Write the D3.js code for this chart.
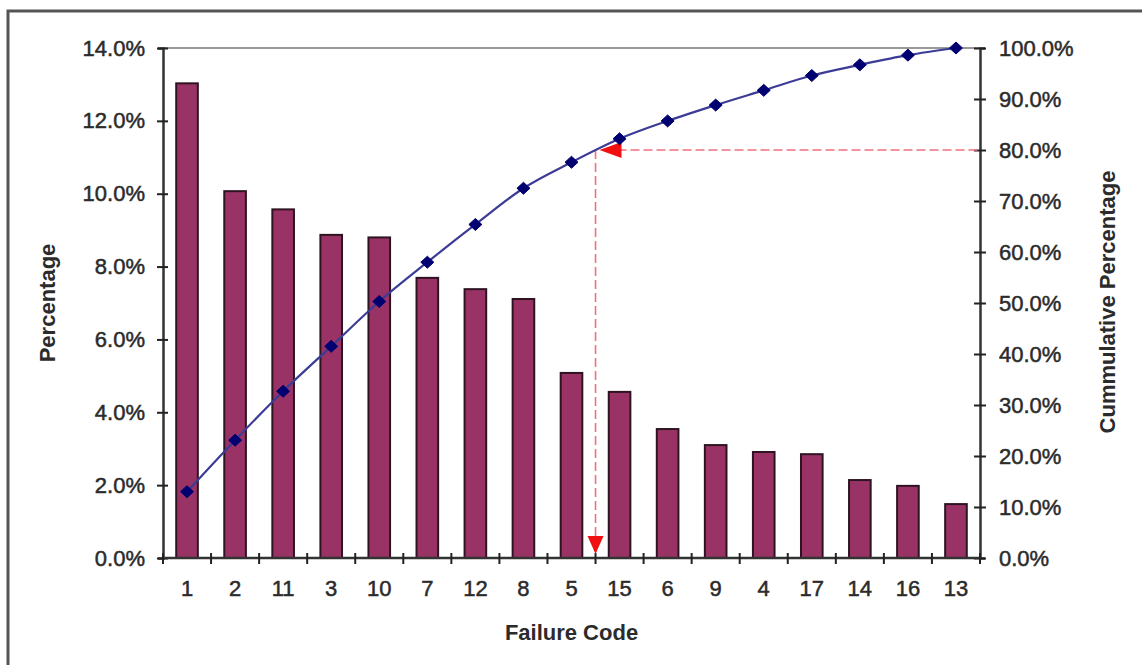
<!DOCTYPE html>
<html><head><meta charset="utf-8">
<script src="https://cdn.jsdelivr.net/npm/d3@7"></script>
<style>
html,body{margin:0;padding:0;background:#fff;}
svg{display:block;font-family:Arial,"Liberation Sans",sans-serif;}
</style></head>
<body><svg id="chart" width="1142" height="665"></svg>
<script>
// ---- data ----
const codes = ["1","2","11","3","10","7","12","8","5","15","6","9","4","17","14","16","13"];
const percentage = [0.1303,0.1007,0.0957,0.0887,0.0880,0.0769,0.0738,0.0711,0.0508,0.0456,0.0354,0.0310,0.0291,0.0285,0.0214,0.0198,0.0148];
const cumulative = [0.130,0.231,0.327,0.415,0.503,0.580,0.654,0.725,0.776,0.822,0.857,0.888,0.917,0.946,0.967,0.986,1.000];
const leftTicks = [0,0.02,0.04,0.06,0.08,0.10,0.12,0.14];
const rightTicks = [0,0.1,0.2,0.3,0.4,0.5,0.6,0.7,0.8,0.9,1.0];
const cutoff = 0.80;           // 80% reference level
const cutoffAfter = "5";       // vertical marker sits after this category
const xTitle = "Failure Code", yTitle = "Percentage", y2Title = "Cummulative Percentage";

const svg = d3.select("#chart");
const L = 163, R = 980, T = 48, B = 558;
const textColor = "#2b2b2b";

svg.append("rect").attr("width",1142).attr("height",665).attr("fill","#fff");
// outer frame (left + top visible)
svg.append("path").attr("d","M8,665V11H1142").attr("fill","none").attr("stroke","#555").attr("stroke-width",3);

const x = d3.scaleBand().domain(codes).range([L,R]).paddingInner(0.55).paddingOuter(0.275);
const yL = d3.scaleLinear().domain([0,0.14]).range([B,T]);
const yR = d3.scaleLinear().domain([0,1]).range([B,T]);

// top plot border
svg.append("line").attr("x1",L).attr("x2",R).attr("y1",T).attr("y2",T).attr("stroke","#999").attr("stroke-width",2);

// bars
svg.append("g").selectAll("rect").data(codes).join("rect")
  .attr("x",d=>x(d)).attr("width",x.bandwidth())
  .attr("y",(d,i)=>yL(percentage[i])).attr("height",(d,i)=>B-yL(percentage[i]))
  .attr("fill","#993366").attr("stroke","#2e1422").attr("stroke-width",2);

// axes
const fmt = d3.format(".1%");
const gl = svg.append("g").attr("transform",`translate(${L},0)`)
  .call(d3.axisLeft(yL).tickValues(leftTicks).tickFormat(fmt).tickSize(5));
gl.selectAll(".tick line").attr("x1",5).attr("x2",-6);
gl.selectAll(".tick text").attr("x",-18);
const gr = svg.append("g").attr("transform",`translate(${R},0)`)
  .call(d3.axisRight(yR).tickValues(rightTicks).tickFormat(fmt).tickSize(5));
gr.selectAll(".tick line").attr("x1",-6).attr("x2",6);
gr.selectAll(".tick text").attr("x",19);
const gb = svg.append("g").attr("transform",`translate(0,${B})`)
  .call(d3.axisBottom(x).tickSize(0));
// boundary ticks
const bounds = codes.map(c=>x(c)-(x.step()-x.bandwidth())/2).concat([R]);
gb.selectAll("line.bt").data(bounds).join("line").attr("class","bt")
  .attr("x1",d=>d).attr("x2",d=>d).attr("y1",-5).attr("y2",6)
  .attr("stroke","#222").attr("stroke-width",2);
gb.selectAll(".tick text").attr("y",22);

[gl,gr,gb].forEach(g=>{
  g.select(".domain").attr("stroke","#333").attr("stroke-width",2.5);
  g.selectAll(".tick line").attr("stroke","#222").attr("stroke-width",2);
  g.selectAll(".tick text").attr("font-size",22).attr("fill",textColor)
    .attr("stroke",textColor).attr("stroke-width",0.5)
    .attr("font-family","Arial, 'Liberation Sans', sans-serif");
});
gb.select(".domain").attr("d",`M${L},0H${R}`);

// reference dashed lines & arrows
const vx = x(cutoffAfter)+x.bandwidth()+(x.step()-x.bandwidth())/2;
const hy = yR(cutoff);
svg.append("line").attr("x1",vx+22).attr("x2",R).attr("y1",hy).attr("y2",hy)
  .attr("stroke","#f07080").attr("stroke-width",1.6).attr("stroke-dasharray","9,4");
svg.append("line").attr("x1",vx).attr("x2",vx).attr("y1",hy).attr("y2",B-18)
  .attr("stroke","#f07080").attr("stroke-width",1.6).attr("stroke-dasharray","9,4");
svg.append("path").attr("d",`M${vx+4},${hy} L${vx+26},${hy-8} L${vx+26},${hy+8} Z`).attr("fill","#f01010");
svg.append("path").attr("d",`M${vx},${B-4} L${vx-8},${B-22} L${vx+8},${B-22} Z`).attr("fill","#f01010");

// cumulative line
const cx = d=>x(d)+x.bandwidth()/2;
svg.append("path").datum(codes)
  .attr("d",d3.line().x(cx).y((d,i)=>yR(cumulative[i])).curve(d3.curveMonotoneX))
  .attr("fill","none").attr("stroke","#3c3c96").attr("stroke-width",2.2);
svg.append("g").selectAll("path").data(codes).join("path")
  .attr("d","M0,-6L6.5,0L0,6L-6.5,0Z")
  .attr("transform",(d,i)=>`translate(${cx(d)},${yR(cumulative[i])})`)
  .attr("fill","#000070").attr("stroke","#000070").attr("stroke-width",1);

// titles
svg.append("text").attr("x",(L+R)/2).attr("y",640).attr("text-anchor","middle")
  .attr("font-size",22).attr("font-weight","bold").attr("fill",textColor).text(xTitle);
svg.append("text").attr("transform","translate(47,303) rotate(-90)").attr("text-anchor","middle")
  .attr("dominant-baseline","central").attr("font-size",22).attr("font-weight","bold").attr("fill",textColor).text(yTitle);
svg.append("text").attr("transform","translate(1107,302) rotate(-90)").attr("text-anchor","middle")
  .attr("dominant-baseline","central").attr("font-size",22).attr("font-weight","bold").attr("fill",textColor).text(y2Title);
</script></body></html>
